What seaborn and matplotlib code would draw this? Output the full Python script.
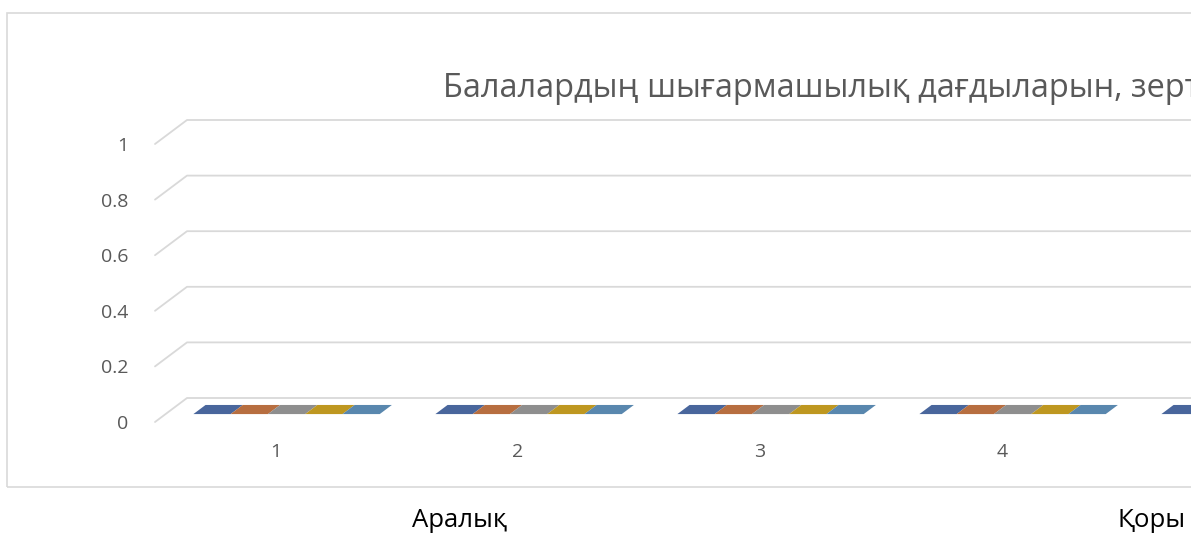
import pandas as pd
import numpy as np
import matplotlib
matplotlib.use("Agg")
import matplotlib.pyplot as plt
import seaborn as sns
from matplotlib.patches import Polygon, Rectangle

# data: every column sits at zero
categories = ["1", "2", "3", "4", "5"]
series = ["Ряд1", "Ряд2", "Ряд3", "Ряд4", "Ряд5"]
values = [
    [0, 0, 0, 0, 0],
    [0, 0, 0, 0, 0],
    [0, 0, 0, 0, 0],
    [0, 0, 0, 0, 0],
    [0, 0, 0, 0, 0],
]
yticks = [0, 0.2, 0.4, 0.6, 0.8, 1]
title = "Балалардың шығармашылық дағдыларын, зерт"
bottom_labels = ["Аралық", "Қоры"]
colors = ["#3B62AA", "#CB6A2C", "#8E8E8E", "#D8A406", "#4B88BC"]

rows = []
for s, vals in zip(series, values):
    for c, v in zip(categories, vals):
        rows.append({"cat": c, "series": s, "value": v})
df = pd.DataFrame(rows)

sns.set_style("white")
plt.rcParams['font.family'] = ['Open Sans', 'DejaVu Sans']

W, H = 1199, 536
fig = plt.figure(figsize=(W / 100, H / 100), dpi=100)

# chart frame (Excel chart area), cut at the right like the screenshot
fig.patches.append(Rectangle((7 / W, (H - 487) / H), 1.2, 474 / H,
                             transform=fig.transFigure, fill=False,
                             edgecolor="#d9d9d9", linewidth=1.2, clip_on=False))

cat_px = 242
val_px = 278
ax = fig.add_axes([155 / W, 114 / H, 5 * cat_px / W, val_px / H])

sns.barplot(data=df, x="cat", y="value", hue="series", palette=colors,
            width=0.77, dodge=True, legend=False, linewidth=0, ax=ax)
ax.set_xlim(-0.5, 4.5)
ax.set_ylim(0, 1)

# fake 3d depth of the floor, in data units
ddx = 32 / cat_px
ddy = 24 / val_px

grid_c = "#d9d9d9"
for v in yticks:
    ax.plot([-0.5, -0.5 + ddx, 4.5 + ddx], [v, v + ddy, v + ddy],
            color=grid_c, lw=1.3, clip_on=False, zorder=1)

# top faces of the zero-height columns
f0, f1 = 0.33, 0.71
for p in list(ax.patches):
    x0, w, h = p.get_x(), p.get_width(), p.get_height()
    pts = [(x0 + f0 * ddx, h + f0 * ddy), (x0 + w + f0 * ddx, h + f0 * ddy),
           (x0 + w + f1 * ddx, h + f1 * ddy), (x0 + f1 * ddx, h + f1 * ddy)]
    ax.add_patch(Polygon(pts, closed=True, facecolor=p.get_facecolor(),
                         edgecolor="none", clip_on=False, zorder=3))

for sp in ax.spines.values():
    sp.set_visible(False)
ax.set_xlabel("")
ax.set_ylabel("")
ax.set_yticks(yticks)
ax.set_yticklabels(["0", "0.2", "0.4", "0.6", "0.8", "1"])
ax.tick_params(axis="y", length=0, pad=19, labelsize=14, labelcolor="#595959")
ax.tick_params(axis="x", length=0, pad=15, labelsize=14, labelcolor="#595959")
ax.grid(False)
ax.patch.set_alpha(0)
# category 5 label lies outside the screenshot
for lab in ax.get_xticklabels()[4:]:
    lab.set_visible(False)

t = fig.text(443 / W, (H - 97) / H, title, fontsize=26, color="#595959",
             ha="left", va="baseline")
fig.canvas.draw()
r = fig.canvas.get_renderer()
tw = t.get_window_extent(r).width
t.set_fontsize(26 * 758 / tw)

fig.text(412 / W, (H - 527) / H, bottom_labels[0], fontsize=18.5, color="black",
         ha="left", va="baseline")
fig.text(1118 / W, (H - 527) / H, bottom_labels[1], fontsize=18.5, color="black",
         ha="left", va="baseline")

# the screenshot ends in a thin white strip on the right
fig.patches.append(Rectangle((1191 / W, 0), 1, 1, transform=fig.transFigure,
                             facecolor="white", edgecolor="none", zorder=100))

fig.savefig("out.png", dpi=100)
